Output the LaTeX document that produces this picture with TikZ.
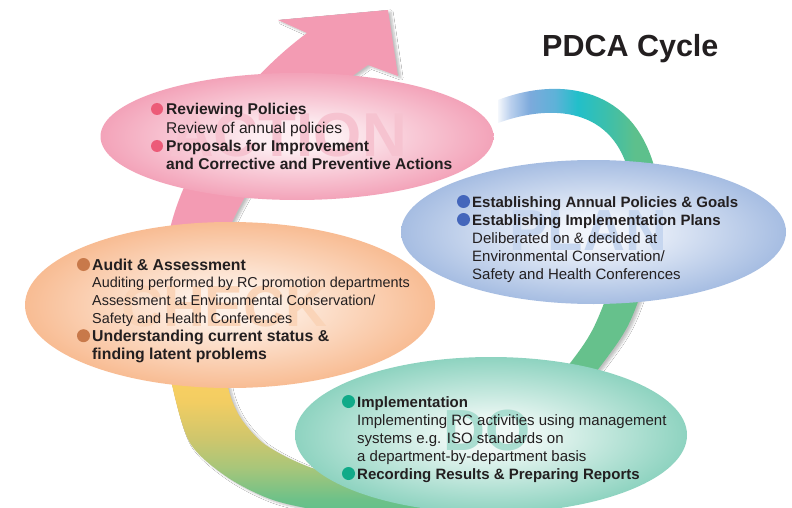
\documentclass[tikz,border=0pt]{standalone}
\usepackage{fontspec}
\setmainfont{Liberation Sans}
\usetikzlibrary{shadows.blur}

\definecolor{txt}{HTML}{231F20}
\definecolor{pinkA}{HTML}{F39BB3}
\definecolor{pkOut}{HTML}{F3A3B9}
\definecolor{pkIn}{HTML}{FDEEF2}
\definecolor{blOut}{HTML}{A6BDE2}
\definecolor{blIn}{HTML}{F0F4FB}
\definecolor{orOut}{HTML}{F8BC93}
\definecolor{orIn}{HTML}{FEF0E6}
\definecolor{tlOut}{HTML}{8ED3C0}
\definecolor{tlIn}{HTML}{EEF8F5}
\definecolor{ringG}{HTML}{66C18C}
\definecolor{bulPk}{HTML}{EC5B78}
\definecolor{bulBl}{HTML}{4466BB}
\definecolor{bulOr}{HTML}{C8794A}
\definecolor{bulTl}{HTML}{10AA88}
\definecolor{wmPk}{HTML}{F6C3D0}
\definecolor{wmBl}{HTML}{C6D6EF}
\definecolor{wmOr}{HTML}{FAD4B8}
\definecolor{wmTl}{HTML}{A9DDD0}
% top arc colours
\definecolor{taA}{HTML}{F4F7FC}
\definecolor{taB}{HTML}{B9CFED}
\definecolor{taC}{HTML}{7CAADC}
\definecolor{taD}{HTML}{5DB2D8}
\definecolor{taE}{HTML}{22BFCA}
\definecolor{taF}{HTML}{3FBFA8}
\definecolor{taG}{HTML}{5DC08C}
% bottom arc colours
\definecolor{baA}{HTML}{5CBF8C}
\definecolor{baB}{HTML}{6CC189}
\definecolor{baC}{HTML}{A8C67A}
\definecolor{baD}{HTML}{CFC66C}
\definecolor{baE}{HTML}{F2CD62}
\definecolor{baF}{HTML}{F9CF62}

\pgfdeclarehorizontalshading{toparc}{100bp}{color(0bp)=(taA); color(25bp)=(taA); color(29bp)=(taB); color(35bp)=(taC); color(43bp)=(taD); color(50bp)=(taE); color(60bp)=(taF); color(68bp)=(taG); color(100bp)=(taG)}
\pgfdeclareverticalshading{botarc}{100bp}{color(0bp)=(baA); color(25bp)=(baA); color(31bp)=(baB); color(40bp)=(baC); color(48bp)=(baD); color(58bp)=(baE); color(64bp)=(baF); color(100bp)=(baF)}
\pgfdeclareradialshading{pkell}{\pgfpoint{0bp}{0bp}}{color(0bp)=(pkIn); color(5bp)=(pkIn); color(25bp)=(pkOut); color(50bp)=(pkOut)}
\pgfdeclareradialshading{blell}{\pgfpoint{0bp}{0bp}}{color(0bp)=(blIn); color(5bp)=(blIn); color(25bp)=(blOut); color(50bp)=(blOut)}
\pgfdeclareradialshading{orell}{\pgfpoint{0bp}{0bp}}{color(0bp)=(orIn); color(5bp)=(orIn); color(25bp)=(orOut); color(50bp)=(orOut)}
\pgfdeclareradialshading{tlell}{\pgfpoint{0bp}{0bp}}{color(0bp)=(tlIn); color(5bp)=(tlIn); color(25bp)=(tlOut); color(50bp)=(tlOut)}

\newcommand{\chkB}[1]{{\fontsize{15.8}{17.8}\selectfont\bfseries #1}}
\newcommand{\chkR}[1]{{\fontsize{14.4}{17.8}\selectfont #1}}

\tikzset{
  ringshadow/.style={blur shadow={shadow xshift=3pt, shadow yshift=-2pt, shadow opacity=25, shadow blur steps=6}},
  txtblock/.style={anchor=base west, inner sep=0pt, align=left, text=txt},
  wmark/.style={anchor=base west, inner sep=0pt, font=\bfseries\fontsize{58}{60}\selectfont}
}

\begin{document}
\begin{tikzpicture}[x=1pt,y=-1pt]
\useasboundingbox (0,0) rectangle (792,508);
\fill[white] (0,0) rectangle (792,508);

% ring pieces
\path[shading=toparc, shade] (498,100) .. controls (560,76) and (638,86) .. (657,178) -- (630,178) .. controls (615,106) and (550,104) .. (498,123) -- cycle;
\fill[ringG, ringshadow] (611,285) -- (644,285) .. controls (628,330) .. (590,380) -- (557,380) .. controls (592,335) .. (611,285) -- cycle;
\path[shading=botarc, shade, ringshadow] plot[smooth] coordinates {(166,340) (172,385) (190,443) (227,477) (273,500) (330,512) (420,522)} -- plot[smooth] coordinates {(420,482) (330,472) (297,462) (263,443) (240,417) (228,387) (224,340)} -- cycle;
\fill[pinkA, ringshadow] (166,250) .. controls (175,180) and (230,90) .. (307,33) -- (278,20) -- (388,10) -- (398,76) -- (368,65) .. controls (310,105) and (255,160) .. (220,250) -- cycle;

% ellipses
\shade[shading=pkell] (297,136.5) ellipse [x radius=196.5, y radius=63.5];
\shade[shading=blell] (593.5,232) ellipse [x radius=192.5, y radius=72];
\shade[shading=orell] (230,305) ellipse [x radius=205, y radius=83];
\shade[shading=tlell] (491,435) ellipse [x radius=196, y radius=78];

% watermark words
\node[wmark, text=wmPk, font=\bfseries\fontsize{62}{62}\selectfont] (wmAct) at (169,157) {ACTION};
\node[wmark, text=wmBl] (wmPlan) at (509,250) {PLAN};
\node[wmark, text=wmOr] (wmCheck) at (121,326) {CHECK};
\node[wmark, text=wmTl] (wmDo) at (443,450) {DO};

% title
\node[anchor=base west, inner sep=0pt, text=txt, font=\bfseries\fontsize{30.5}{36}\selectfont] (title) at (542,57) {PDCA Cycle};

% ACTION text (anchor = baseline of last line)
\node[txtblock, font=\fontsize{15.6}{18.3}\selectfont] (actTxt) at (166,169.9) {\textbf{Reviewing Policies}\\Review of annual policies\\\textbf{Proposals for Improvement}\\\textbf{and Corrective and Preventive Actions}};
\fill[bulPk] (157,109) circle[radius=6pt];
\fill[bulPk] (157,146) circle[radius=6pt];

% PLAN text
\node[txtblock, font=\fontsize{15}{18}\selectfont] (planTxt) at (472,279) {\textbf{Establishing Annual Policies \& Goals}\\\textbf{Establishing Implementation Plans}\\Deliberated on \& decided at\\Environmental Conservation/\\Safety and Health Conferences};
\fill[bulBl] (463.5,201.5) circle[radius=6.5pt];
\fill[bulBl] (463.5,219.5) circle[radius=6.5pt];

% CHECK text
\node[txtblock, font=\fontsize{15}{17.8}\selectfont] (checkTxt) at (92,359) {\chkB{Audit \& Assessment}\\\chkR{Auditing performed by RC promotion departments}\\\chkR{Assessment at Environmental Conservation/}\\\chkR{Safety and Health Conferences}\\\chkB{Understanding current status \&}\\\chkB{finding latent problems}};
\fill[bulOr] (83.5,264.5) circle[radius=6.5pt];
\fill[bulOr] (83.5,335.7) circle[radius=6.5pt];

% DO text
\node[txtblock, font=\fontsize{15}{18}\selectfont] (doTxt) at (357,479) {\textbf{Implementation}\\Implementing RC activities using management\\systems e.g. ISO standards on\\a department-by-department basis\\\textbf{Recording Results \& Preparing Reports}};
\fill[bulTl] (348.5,401.5) circle[radius=6.5pt];
\fill[bulTl] (348.5,473.5) circle[radius=6.5pt];
\end{tikzpicture}
\end{document}
